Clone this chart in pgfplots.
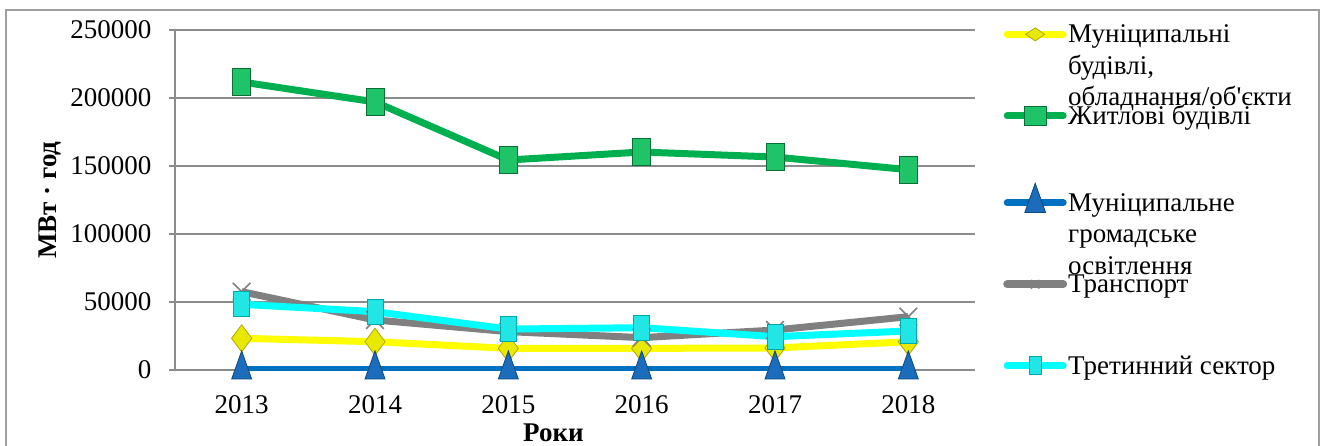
\documentclass[border=0pt]{standalone}
\usepackage{pgfplots}
\pgfplotsset{compat=1.18}
\usepackage{fontspec}
\setmainfont{Liberation Serif}
\definecolor{cyel}{HTML}{FFFF00}
\definecolor{cyelm}{HTML}{E8E800}
\definecolor{cyele}{HTML}{B0A800}
\definecolor{cgrn}{HTML}{00B050}
\definecolor{cgrnm}{HTML}{20C468}
\definecolor{cgrne}{HTML}{0B6E38}
\definecolor{cblu}{HTML}{0070C0}
\definecolor{cblum}{HTML}{1C6CBC}
\definecolor{cblue}{HTML}{0D4680}
\definecolor{cgry}{HTML}{808080}
\definecolor{ccya}{HTML}{00FFFF}
\definecolor{ccyam}{HTML}{22E6E6}
\definecolor{ccyae}{HTML}{00A8A8}
\definecolor{cgrid}{HTML}{8C8C8C}
\newcommand\lstrut{\rule[-8pt]{0pt}{26pt}}
\begin{document}
\begin{tikzpicture}[x=1pt,y=1pt]
\path[use as bounding box] (0,0) rectangle (1325,445);
\draw[color=gray!75, line width=1.5pt] (6,-5) -- (6,435) -- (1319,435) -- (1319,-5);
\begin{axis}[
  at={(175pt,75pt)}, anchor=south west,
  scale only axis, width=800pt, height=340pt,
  xmin=-0.5, xmax=5.5, ymin=0, ymax=250000,
  xtick={0,1,2,3,4,5}, xticklabels={2013,2014,2015,2016,2017,2018},
  ytick={0,50000,100000,150000,200000,250000},
  scaled y ticks=false,
  yticklabel={\pgfmathprintnumber[fixed,precision=0,1000 sep={},assume math mode=true]{\tick}},
  axis x line=bottom, axis y line=left,
  axis line style={-, draw=cgrid, line width=1.5pt},
  xtick style={draw=none},
  ytick style={draw=cgrid, line width=1.2pt},
  tick align=outside, major tick length=6pt,
  ymajorgrids, grid style={draw=cgrid, line width=1.8pt},
  tick label style={font=\fontsize{27}{31}\selectfont},
  xticklabel style={yshift=-16pt},
  yticklabel style={xshift=-14pt},
  every axis y label/.style={at={(axis description cs:-0.156,0.5)}, rotate=90, anchor=center, font=\fontsize{27}{31}\selectfont\bfseries},
  every axis x label/.style={at={(axis description cs:0.473,-0.185)}, anchor=center, font=\fontsize{27}{31}\selectfont\bfseries},
  ylabel={МВт · год},
  xlabel={Роки},
  legend style={at={(axis description cs:1.035,1.029)}, anchor=north west, draw=none, fill=none,
    font=\fontsize{27}{31.5}\selectfont, row sep=53.5pt, inner sep=0pt,
    nodes={inner sep=1pt}},
  legend cell align=left,
]
\addplot[cyel, line width=7pt, mark=diamond*, mark size=13.5pt,
  mark options={fill=cyelm, draw=cyele, line width=0.8pt},
  legend image code/.code={
    \path[draw=none, fill=none] (0pt,-14pt) rectangle (56pt,14pt);
    \draw[cyel, line width=7pt, line cap=round] (0pt,0pt) -- (56pt,0pt);
    \draw[fill=cyelm, draw=cyele, line width=0.8pt] plot[mark=diamond*, mark size=6.5pt, mark options={xscale=1.95}] coordinates {(28pt,0pt)};
  }] coordinates {(0,23300) (1,20800) (2,15900) (3,15900) (4,16200) (5,20800)};
\addlegendentry{\smash{\parbox[t]{300pt}{Муніципальні\\будівлі,\\обладнання/об\textquotesingle єкти}}\lstrut}
\addplot[cgrn, line width=7pt, mark=square*, mark size=13.5pt,
  mark options={fill=cgrnm, draw=cgrne, line width=0.8pt, xscale=0.667},
  legend image code/.code={
    \path[draw=none, fill=none] (0pt,-14pt) rectangle (56pt,14pt);
    \draw[cgrn, line width=7pt, line cap=round] (0pt,0pt) -- (56pt,0pt);
    \draw[fill=cgrnm, draw=cgrne, line width=0.8pt] plot[mark=square*, mark size=9.5pt, mark options={xscale=1.15}] coordinates {(28pt,0pt)};
  }] coordinates {(0,211800) (1,197100) (2,154400) (3,160300) (4,156600) (5,147300)};
\addlegendentry{Житлові будівлі\lstrut}
\addplot[cblu, line width=7pt, mark=triangle*, mark size=11.5pt,
  mark options={fill=cblum, draw=cblue, line width=0.8pt, yscale=1.62},
  legend image code/.code={
    \path[draw=none, fill=none] (0pt,-14pt) rectangle (56pt,14pt);
    \draw[cblu, line width=7pt, line cap=round] (0pt,0pt) -- (56pt,0pt);
    \draw[fill=cblum, draw=cblue, line width=0.8pt] plot[mark=triangle*, mark size=12pt] coordinates {(28pt,0pt)};
  }] coordinates {(0,300) (1,300) (2,300) (3,300) (4,300) (5,300)};
\addlegendentry{\smash{\parbox[t]{300pt}{Муніципальне\\громадське\\освітлення}}\lstrut}
\addplot[cgry, line width=7pt, mark=x, mark size=12.5pt,
  mark options={draw=cgry, line width=1.6pt},
  legend image code/.code={
    \path[draw=none, fill=none] (0pt,-14pt) rectangle (56pt,14pt);
    \draw[cgry, line width=8pt, line cap=round] (0pt,0pt) -- (56pt,0pt);
    \draw[draw=gray!50!black, line width=0.8pt] plot[mark=x, mark size=6pt] coordinates {(28pt,0pt)};
  }] coordinates {(0,57600) (1,36800) (2,28200) (3,23800) (4,29400) (5,39200)};
\addlegendentry{Транспорт\lstrut}
\addplot[ccya, line width=7pt, mark=square*, mark size=12.5pt,
  mark options={fill=ccyam, draw=ccyae, line width=0.8pt, xscale=0.64},
  legend image code/.code={
    \path[draw=none, fill=none] (0pt,-14pt) rectangle (56pt,14pt);
    \draw[ccya, line width=7pt, line cap=round] (0pt,0pt) -- (56pt,0pt);
    \draw[fill=ccyam, draw=ccyae, line width=0.8pt] plot[mark=square*, mark size=9pt] coordinates {(28pt,0pt)};
  }] coordinates {(0,48300) (1,42900) (2,30100) (3,31100) (4,24500) (5,28700)};
\addlegendentry{Третинний сектор\lstrut}
\end{axis}
\end{tikzpicture}
\end{document}
